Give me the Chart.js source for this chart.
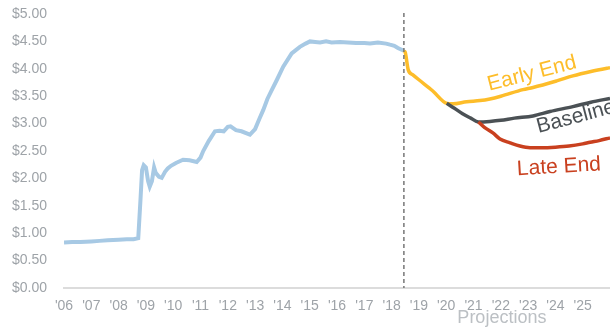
<!DOCTYPE html>
<html>
<head>
<meta charset="utf-8">
<script src="https://cdn.jsdelivr.net/npm/chart.js@4/dist/chart.umd.min.js"></script>
<style>
  html, body { margin:0; padding:0; background:#fff; }
  #wrap { width:610px; height:328px; position:relative; }
</style>
</head>
<body>
<div id="wrap"><canvas id="chart"></canvas></div>
<script>
// historical price (light blue)
const histYears = [2006.00,2006.30,2006.60,2007.00,2007.30,2007.60,2008.00,2008.30,2008.55,2008.72,2008.80,2008.86,2008.92,2009.00,2009.08,2009.14,2009.22,2009.30,2009.36,2009.48,2009.58,2009.70,2009.80,2009.92,2010.10,2010.36,2010.60,2010.86,2011.00,2011.10,2011.30,2011.53,2011.70,2011.85,2012.00,2012.10,2012.30,2012.50,2012.81,2013.00,2013.15,2013.30,2013.45,2013.60,2013.80,2014.03,2014.34,2014.64,2014.85,2015.01,2015.20,2015.38,2015.60,2015.80,2016.11,2016.40,2016.70,2017.00,2017.21,2017.50,2017.80,2017.94,2018.10,2018.23,2018.45];
const histValues = [0.83,0.84,0.84,0.85,0.86,0.87,0.88,0.89,0.89,0.91,1.60,2.15,2.24,2.20,1.95,1.85,1.95,2.20,2.10,2.03,2.01,2.12,2.18,2.23,2.28,2.34,2.33,2.30,2.38,2.50,2.68,2.86,2.87,2.86,2.94,2.95,2.88,2.86,2.80,2.90,3.08,3.25,3.45,3.60,3.80,4.04,4.28,4.40,4.46,4.50,4.49,4.48,4.50,4.48,4.49,4.48,4.47,4.47,4.46,4.48,4.46,4.44,4.42,4.38,4.33];

// projections
const earlyYears = [2018.45,2018.50,2018.61,2018.78,2019.00,2019.50,2020.02,2020.25,2020.75,2021.24,2021.60,2022.00,2022.81,2023.18,2024.05,2024.64,2025.30,2025.89,2026.00];
const earlyValues = [4.33,4.30,3.98,3.89,3.80,3.60,3.37,3.36,3.40,3.42,3.45,3.50,3.62,3.66,3.78,3.87,3.95,4.01,4.02];

const baseYears = [2020.02,2020.30,2020.60,2020.90,2021.18,2021.60,2022.00,2022.50,2023.18,2023.80,2024.64,2025.30,2026.00];
const baseValues = [3.37,3.28,3.18,3.10,3.03,3.04,3.06,3.10,3.14,3.22,3.31,3.39,3.46];

const lateYears = [2021.18,2021.40,2021.71,2021.97,2022.34,2022.70,2023.07,2023.50,2024.00,2024.50,2025.00,2025.27,2025.60,2026.00];
const lateValues = [3.03,2.93,2.83,2.72,2.65,2.59,2.56,2.56,2.57,2.59,2.63,2.66,2.69,2.74];

const projStart = 2018.45;
const yTicks = [0,0.5,1,1.5,2,2.5,3,3.5,4,4.5,5];

const C = {
  hist: "#a7c9e4",
  early: "#fdbd2a",
  base: "#4b5155",
  late: "#c9401f",
  tick: "#9ea3a8",
  proj: "#bcc0c4",
};
const FONT = "'Liberation Sans', Arial, sans-serif";

// line labels, anchored to data coords
const notes = [
  { text:"Early End", x:2023.14, y:3.91, angle:-14.5, color:C.early, size:21 },
  { text:"Baseline",  x:2024.75, y:3.12, angle:-15,   color:C.base,  size:21 },
  { text:"Late End",  x:2024.13, y:2.21, angle:-3.4,  color:C.late,  size:21 },
];

const pts = (xs, ys) => xs.map((x,i)=>({ x, y: ys[i] }));

const overlay = {
  id: "overlay",
  afterDatasetsDraw(chart){
    const { ctx, chartArea, scales } = chart;
    const x = scales.x, y = scales.y;

    // projection divider
    const px = x.getPixelForValue(projStart);
    ctx.save();
    ctx.strokeStyle = "#777";
    ctx.lineWidth = 1.5;
    ctx.setLineDash([4,3]);
    ctx.beginPath();
    ctx.moveTo(px, chartArea.top - 1);
    ctx.lineTo(px, chartArea.bottom);
    ctx.stroke();
    ctx.restore();

    for(const n of notes){
      ctx.save();
      ctx.translate(x.getPixelForValue(n.x), y.getPixelForValue(n.y));
      ctx.rotate(n.angle * Math.PI / 180);
      ctx.font = `${n.size}px ${FONT}`;
      ctx.fillStyle = n.color;
      ctx.textAlign = "center";
      ctx.textBaseline = "middle";
      ctx.fillText(n.text, 0, 0);
      ctx.restore();
    }

    ctx.save();
    ctx.font = `18px ${FONT}`;
    ctx.fillStyle = C.proj;
    ctx.textAlign = "center";
    ctx.textBaseline = "middle";
    ctx.fillText("Projections", x.getPixelForValue(2022.04), chartArea.bottom + 30);
    ctx.restore();
  }
};

new Chart(document.getElementById("chart").getContext("2d"), {
  type: "line",
  data: {
    datasets: [
      { data: pts(histYears, histValues), borderColor:C.hist, borderWidth:4, pointRadius:0, tension:0, order:4 },
      { data: pts(earlyYears, earlyValues), borderColor:C.early, borderWidth:3.5, pointRadius:0, cubicInterpolationMode:"monotone", order:3 },
      { data: pts(baseYears, baseValues), borderColor:C.base, borderWidth:3.5, pointRadius:0, cubicInterpolationMode:"monotone", order:2 },
      { data: pts(lateYears, lateValues), borderColor:C.late, borderWidth:3.5, pointRadius:0, cubicInterpolationMode:"monotone", order:1 },
    ]
  },
  options: {
    responsive: true,
    maintainAspectRatio: false,
    animation: false,
    devicePixelRatio: 1,
    layout: { padding: { top:14, right:0, left:0, bottom:0 } },
    plugins: { legend:{ display:false }, tooltip:{ enabled:false } },
    scales: {
      x: {
        type: "linear",
        min: 2006, max: 2026,
        grid: { display:false, drawTicks:false },
        border: { display:true, color:"#dcdcdc", width:2 },
        ticks: {
          stepSize: 1,
          autoSkip: false,
          maxRotation: 0,
          padding: 10,
          color: C.tick,
          font: { family: FONT, size: 14 },
          callback: v => v >= 2026 ? "" : "'" + String(v).slice(2)
        },
        afterFit: s => { s.height = 40; s.paddingLeft = 0; s.paddingRight = 0; }
      },
      y: {
        min: 0, max: 5,
        grid: { display:false, drawTicks:false },
        border: { display:false },
        afterBuildTicks: s => { s.ticks = yTicks.map(v => ({ value:v })); },
        ticks: {
          padding: 17,
          color: C.tick,
          font: { family: FONT, size: 14 },
          callback: v => "$" + Number(v).toFixed(2)
        },
        afterFit: s => { s.width = 64; s.paddingTop = 0; s.paddingBottom = 0; }
      }
    }
  },
  plugins: [overlay]
});
</script>
</body>
</html>
